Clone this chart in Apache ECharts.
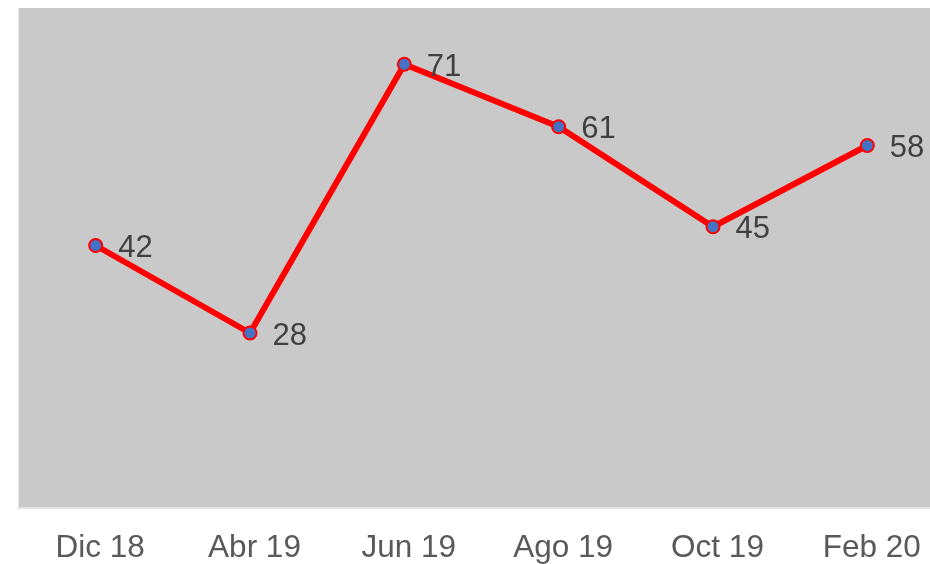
<!DOCTYPE html>
<html>
<head>
<meta charset="utf-8">
<script src="https://cdn.jsdelivr.net/npm/echarts@6/dist/echarts.min.js"></script>
<style>
  html, body { margin: 0; padding: 0; background: #fff; }
  #chart { width: 930px; height: 564px; }
</style>
</head>
<body>
<div id="chart"></div>
<script>
const categories = ['Dic 18', 'Abr 19', 'Jun 19', 'Ago 19', 'Oct 19', 'Feb 20'];
const values = [42, 28, 71, 61, 45, 58];

const chart = echarts.init(document.getElementById('chart'));

const option = {
  animation: false,
  textStyle: { fontFamily: '"Liberation Sans", Arial, sans-serif' },
  grid: {
    show: true,
    left: 18.5,
    top: 8,
    width: 926,
    height: 500,
    outerBoundsMode: 'none',
    containLabel: false,
    backgroundColor: '#c9c9c9',
    borderWidth: 0
  },
  xAxis: {
    type: 'category',
    data: categories,
    boundaryGap: true,
    axisLine: { show: true, lineStyle: { color: '#e4e4e4', width: 2 } },
    axisTick: { show: false },
    axisLabel: {
      fontSize: 31.5,
      color: '#595959',
      margin: 24,
      padding: [0, 0, 0, 9]
    }
  },
  yAxis: {
    type: 'value',
    min: 0,
    max: 80,
    show: false,
    splitLine: { show: false }
  },
  series: [{
    type: 'line',
    data: values,
    symbol: 'circle',
    symbolSize: 13,
    lineStyle: { color: '#ff0000', width: 6 },
    itemStyle: { color: '#4472c4', borderColor: '#ff0000', borderWidth: 2 },
    label: {
      show: true,
      position: 'right',
      distance: 15,
      fontSize: 31,
      color: '#404040',
      offset: [0, 3]
    }
  }]
};

chart.setOption(option);
</script>
</body>
</html>
